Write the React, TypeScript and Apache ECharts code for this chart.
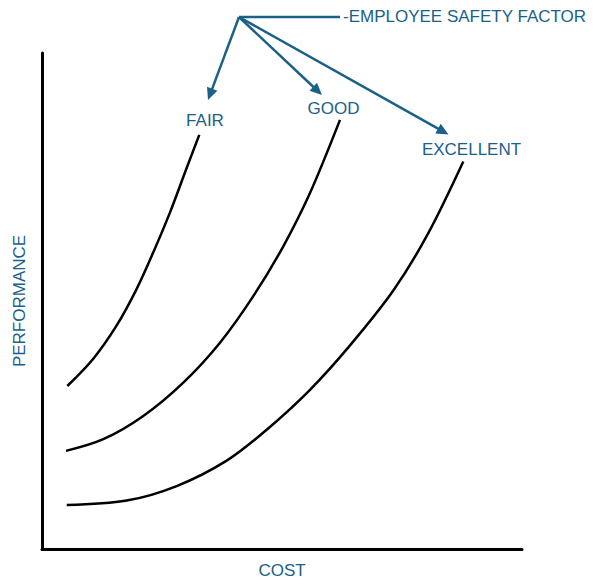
import React, { useEffect, useRef } from "react";
import * as echarts from "echarts";

const curveNames = ["FAIR", "GOOD", "EXCELLENT"];
const fairCurve: [number, number][] = [
  [5.27, 32.86], [10.69, 38.37], [15.56, 45.07], [19.73, 52.45], [23.19, 59.82],
  [26.67, 67.87], [30.0, 76.46], [32.77, 83.5],
];
const goodCurve: [number, number][] = [
  [5.0, 19.78], [12.77, 22.13], [21.1, 26.82], [29.44, 33.54], [37.08, 41.59],
  [44.02, 50.97], [50.27, 61.03], [55.83, 71.77], [62.08, 86.52],
];
const excellentCurve: [number, number][] = [
  [5.15, 8.85], [17.65, 9.76], [28.06, 12.68], [38.48, 17.81], [46.81, 24.04],
  [55.83, 32.09], [64.17, 41.05], [73.19, 52.11], [80.42, 63.58], [87.77, 78.13],
];
const xAxisName = "COST";
const yAxisName = "PERFORMANCE";
const factorTitle = "-EMPLOYEE SAFETY FACTOR";

const BLUE = "#1b6089";
const FONT = "'Liberation Sans', Arial, sans-serif";
const FS = 17;

function arrow(x1: number, y1: number, x2: number, y2: number) {
  const dx = x2 - x1, dy = y2 - y1;
  const len = Math.sqrt(dx * dx + dy * dy);
  const ux = dx / len, uy = dy / len;
  const nx = -uy, ny = ux;
  const L = 12, W = 5.5;
  const bx = x2 - ux * L, by = y2 - uy * L;
  return [
    {
      type: "line",
      shape: { x1, y1, x2: x2 - ux * L * 0.7, y2: y2 - uy * L * 0.7 },
      style: { stroke: BLUE, lineWidth: 2.5 },
      silent: true,
    },
    {
      type: "polygon",
      shape: { points: [[x2, y2], [bx + nx * W, by + ny * W], [bx - nx * W, by - ny * W]] },
      style: { fill: BLUE },
      silent: true,
    },
  ];
}

export default function App() {
  const ref = useRef<HTMLDivElement>(null);
  useEffect(() => {
    if (!ref.current) return;
    const chart = echarts.init(ref.current, undefined, { renderer: "svg" });
    const ox = 239, oy = 17;
    const textStyle = (text: string, align: string) => ({
      text, fill: BLUE, font: `${FS}px ${FONT}`, textAlign: align, textVerticalAlign: "middle",
    });
    const graphic: any[] = [
      {
        type: "line",
        shape: { x1: ox, y1: oy, x2: 340, y2: oy },
        style: { stroke: BLUE, lineWidth: 2.5 },
        silent: true,
      },
      ...arrow(ox, oy, 208, 100),
      ...arrow(ox, oy, 322, 95),
      ...arrow(ox, oy, 448.5, 134.5),
      { type: "text", x: 343, y: 16, style: textStyle(factorTitle, "left") },
      { type: "text", x: 205, y: 120.5, style: textStyle(curveNames[0], "center") },
      { type: "text", x: 333.5, y: 108.5, style: textStyle(curveNames[1], "center") },
      { type: "text", x: 471.5, y: 149, style: textStyle(curveNames[2], "center") },
    ];
    const lineSeries = (name: string, data: [number, number][]) => ({
      name,
      type: "line",
      data,
      smooth: 0.33,
      showSymbol: false,
      lineStyle: { color: "#000", width: 2.5 },
      silent: true,
    });
    chart.setOption({
      animation: false,
      grid: { left: 42, right: 73, top: 53, bottom: 34 },
      xAxis: {
        type: "value", min: 0, max: 100,
        name: xAxisName, nameLocation: "middle", nameGap: 13,
        nameTextStyle: { color: BLUE, fontSize: FS, fontFamily: FONT },
        axisLine: { show: true, onZero: false, lineStyle: { color: "#000", width: 3 } },
        axisTick: { show: false }, axisLabel: { show: false }, splitLine: { show: false },
      },
      yAxis: {
        type: "value", min: 0, max: 100,
        name: yAxisName, nameLocation: "middle", nameGap: 14,
        nameTextStyle: { color: BLUE, fontSize: FS, fontFamily: FONT },
        axisLine: { show: true, onZero: false, lineStyle: { color: "#000", width: 3 } },
        axisTick: { show: false }, axisLabel: { show: false }, splitLine: { show: false },
      },
      series: [
        lineSeries(curveNames[0], fairCurve),
        lineSeries(curveNames[1], goodCurve),
        lineSeries(curveNames[2], excellentCurve),
      ],
      graphic,
    });
    return () => chart.dispose();
  }, []);
  return (
    <div
      ref={ref}
      style={{ position: "absolute", left: 0, top: 0, width: 595, height: 584, background: "#fff" }}
    />
  );
}
